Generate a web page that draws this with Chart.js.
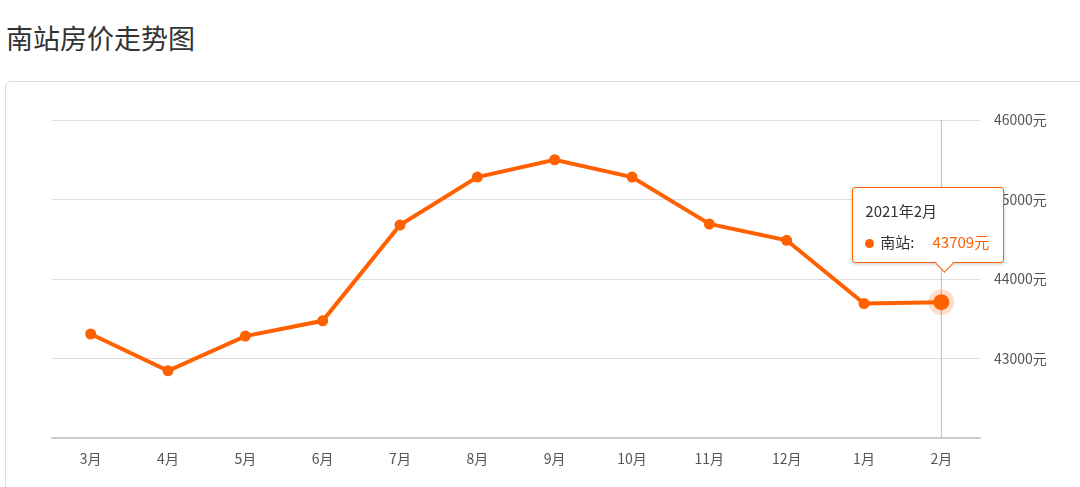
<!DOCTYPE html>
<html>
<head>
<meta charset="utf-8">
<script src="https://cdn.jsdelivr.net/npm/chart.js@4/dist/chart.umd.min.js"></script>
<style>
  body { margin: 0; width: 1080px; height: 487px; background: #fff; font-family: "Noto Sans CJK SC", sans-serif; overflow: hidden; position: relative; }
  #title { position: absolute; left: 6px; top: 18px; font-size: 27px; color: #333; }
  #panel { position: absolute; left: 5px; top: 81px; width: 1090px; height: 430px; border: 1px solid #ddd; border-radius: 6px; }
  #wrap { position: absolute; left: 0; top: 0; width: 1080px; height: 487px; }
  #tip { position: absolute; background: #fff; border: 1px solid #ff6000; border-radius: 3px; padding: 12px 14px 10px 12px; font-size: 15px; color: #333; box-shadow: 0 1px 4px rgba(0,0,0,0.2); white-space: nowrap; }
  #tip .dot { display: inline-block; width: 9px; height: 9px; border-radius: 50%; background: #ff6000; margin-right: 6px; }
  #tip .val { color: #ff6000; margin-left: 18px; }
  #tip:after { content: ""; position: absolute; left: 85px; bottom: -8px; width: 12px; height: 12px; background: #fff; border-right: 1px solid #ff6000; border-bottom: 1px solid #ff6000; transform: rotate(45deg); }
</style>
</head>
<body>
<div id="title">南站房价走势图</div>
<div id="panel"></div>
<div id="wrap"><canvas id="chart" width="1080" height="487" style="width:1080px;height:487px"></canvas></div>
<div id="tip"></div>
<script>
const months = ["3月", "4月", "5月", "6月", "7月", "8月", "9月", "10月", "11月", "12月", "1月", "2月"];
const prices = [43308, 42846, 43282, 43474, 44679, 45282, 45500, 45282, 44692, 44487, 43692, 43709];
const tipTitle = "2021年2月";
const seriesName = "南站";
const activeIndex = 11;

const guideLine = {
  id: "guideLine",
  beforeDatasetsDraw(chart) {
    const meta = chart.getDatasetMeta(0);
    const x = meta.data[activeIndex].x;
    const ctx = chart.ctx;
    ctx.save();
    ctx.strokeStyle = "#bbb";
    ctx.lineWidth = 1;
    ctx.beginPath();
    ctx.moveTo(x, chart.chartArea.top);
    ctx.lineTo(x, chart.chartArea.bottom);
    ctx.stroke();
    const p = meta.data[activeIndex];
    ctx.fillStyle = "rgba(255,96,0,0.2)";
    ctx.beginPath();
    ctx.arc(p.x, p.y, 13, 0, Math.PI * 2);
    ctx.fill();
    ctx.restore();
  }
};

const chart = new Chart(document.getElementById("chart"), {
  type: "line",
  data: {
    labels: months,
    datasets: [{
      data: prices,
      borderColor: "#ff6000",
      backgroundColor: "#ff6000",
      borderWidth: 4,
      tension: 0,
      pointRadius: prices.map((v, i) => i === activeIndex ? 8 : 5.5),
      pointBackgroundColor: "#ff6000",
      pointBorderWidth: 0
    }]
  },
  options: {
    responsive: false,
    animation: false,
    devicePixelRatio: 1,
    layout: { padding: { left: 52, top: 120, right: 0, bottom: 0 } },
    plugins: { legend: { display: false }, tooltip: { enabled: false } },
    scales: {
      x: {
        offset: true,
        grid: { display: false, drawTicks: false },
        border: { color: "#ccc", width: 2 },
        ticks: { color: "#555", font: { size: 14, family: "Noto Sans CJK SC" }, padding: 12 },
        afterFit(s) { s.height = 49; }
      },
      y: {
        position: "right",
        min: 42000,
        max: 46000,
        grid: { color: "#ddd", drawTicks: false },
        border: { display: false },
        ticks: {
          stepSize: 1000,
          color: "#555",
          padding: 14,
          font: { size: 14, family: "Noto Sans CJK SC" },
          callback: v => v === 42000 ? "" : v + "元"
        },
        afterFit(s) { s.width = 100; }
      }
    }
  },
  plugins: [guideLine]
});

const pt = chart.getDatasetMeta(0).data[activeIndex];
const tip = document.getElementById("tip");
tip.innerHTML = tipTitle + "<div style='margin-top:10px'><span class='dot'></span>" + seriesName + ":<span class='val'>" + prices[activeIndex] + "元</span></div>";
tip.style.left = (pt.x - 89) + "px";
tip.style.top = (pt.y - 115) + "px";
</script>
</body>
</html>
